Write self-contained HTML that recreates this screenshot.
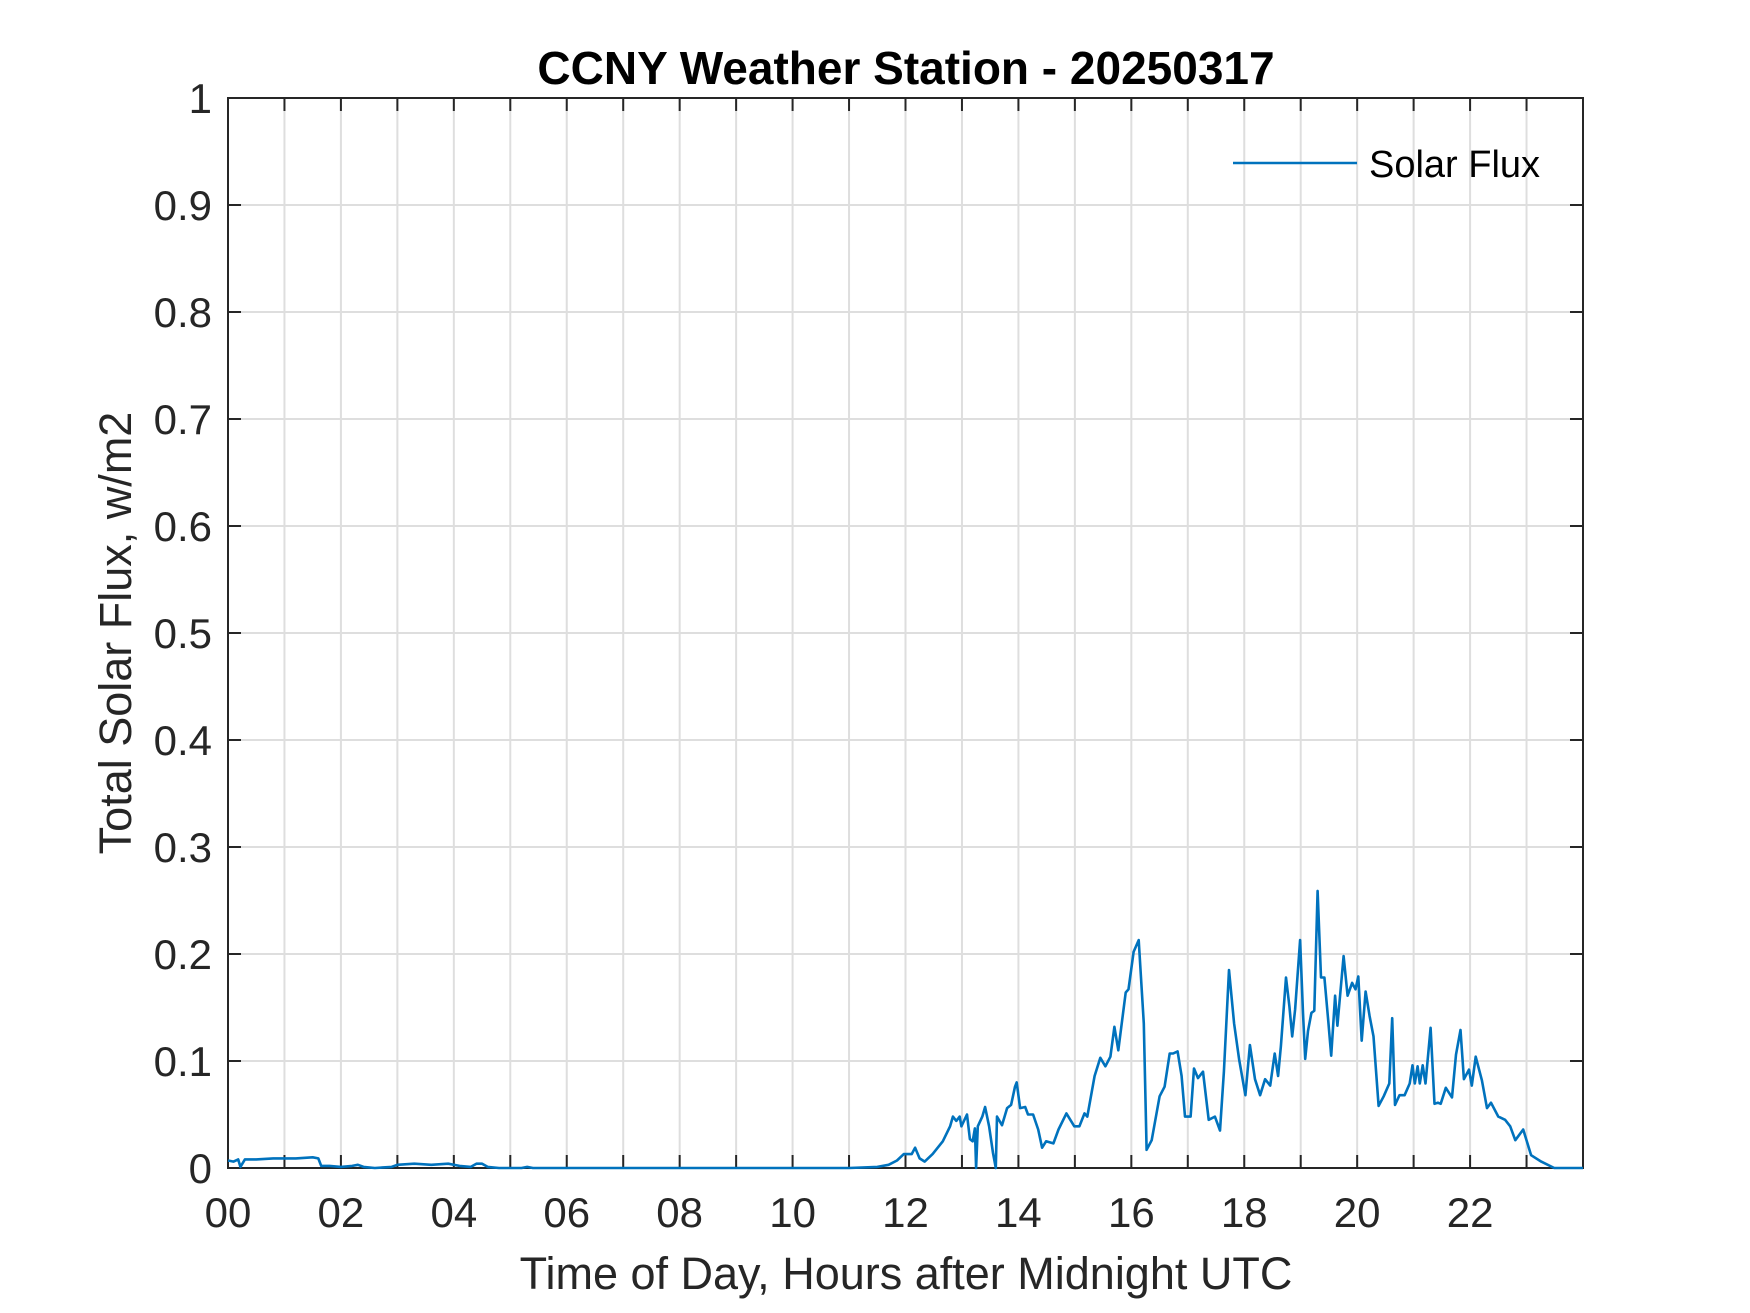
<!DOCTYPE html>
<html><head><meta charset="utf-8"><style>
html,body{margin:0;padding:0;background:#fff;}
svg{display:block;font-family:"Liberation Sans",Arial,sans-serif;}
</style></head><body>
<svg id="chart" width="1750" height="1313" viewBox="0 0 1750 1313">
<rect x="0" y="0" width="1750" height="1313" fill="#fff"/>
<rect x="228" y="98" width="1355" height="1070" fill="#fff"/>
<g id="grid"></g>
<rect x="228" y="98" width="1355" height="1070" fill="none" stroke="#262626" stroke-width="2"/>
<g id="ticks"></g>
<g id="series"></g>
<text x="906" y="84" text-anchor="middle" font-size="46" font-weight="bold" fill="#000">CCNY Weather Station - 20250317</text>
<text x="906" y="1289" text-anchor="middle" font-size="45" fill="#262626">Time of Day, Hours after Midnight UTC</text>
<text transform="translate(131,633) rotate(-90)" text-anchor="middle" font-size="45" fill="#262626">Total Solar Flux, w/m2</text>
<g>
<line x1="1233" y1="163" x2="1357" y2="163" stroke="#0072BD" stroke-width="2.4"/>
<text x="1369" y="177" font-size="38" fill="#000">Solar Flux</text>
</g>
</svg>
<script>
const times = [
0,0.1,0.18,0.22,0.3,0.5,0.8,1.0,1.2,1.5,
1.6,1.65,1.8,2.0,2.2,2.3,2.4,2.6,2.9,3.0,
3.3,3.6,3.9,4.1,4.3,4.4,4.5,4.6,4.8,5.2,
5.3,5.4,5.6,11.0,11.5,11.7,11.85,
11.97,12.11,12.17,12.25,12.34,12.48,12.66,12.79,12.84,12.90,
12.96,12.99,13.09,13.14,13.19,13.23,13.25,13.28,13.36,13.41,
13.48,13.55,13.6,13.62,13.71,13.80,13.87,13.94,13.97,14.03,
14.12,14.17,14.26,14.35,14.42,14.49,14.62,14.71,14.85,14.99,
15.08,15.17,15.22,15.35,15.45,15.54,15.63,15.70,15.77,15.90,
15.95,16.04,16.13,16.22,16.27,16.36,16.50,16.59,16.68,16.74,
16.82,16.89,16.95,17.05,17.11,17.18,17.27,17.37,17.48,17.57,
17.64,17.73,17.82,17.91,18.02,18.10,18.19,18.28,18.37,18.46,
18.54,18.60,18.65,18.74,18.80,18.85,18.90,18.99,19.04,19.08,
19.13,19.19,19.24,19.30,19.36,19.42,19.49,19.54,19.61,19.65,
19.76,19.83,19.91,19.97,20.02,20.08,20.15,20.22,20.29,20.38,
20.47,20.57,20.62,20.67,20.75,20.84,20.93,20.98,21.02,21.07,
21.11,21.16,21.21,21.30,21.37,21.43,21.48,21.57,21.68,21.75,
21.83,21.89,21.98,22.03,22.10,22.21,22.30,22.37,22.50,22.62,
22.71,22.80,22.94,23.08,23.26,23.49,24
];
const values = [
0.007,0.006,0.008,0.001,0.008,0.008,0.009,0.009,0.009,0.01,
0.009,0.002,0.002,0.001,0.002,0.003,0.001,0,0.001,0.003,
0.004,0.003,0.004,0.002,0.001,0.004,0.004,0.001,0,0,
0.001,0,0,0,0.001,0.003,0.007,
0.013,0.013,0.019,0.009,0.006,0.013,0.025,0.039,0.048,0.044,
0.048,0.039,0.05,0.027,0.025,0.037,0,0.039,0.048,0.057,
0.039,0.014,0,0.048,0.04,0.056,0.059,0.076,0.08,0.056,
0.057,0.05,0.05,0.036,0.019,0.025,0.023,0.036,0.051,0.039,
0.039,0.051,0.048,0.086,0.103,0.095,0.104,0.132,0.11,0.164,
0.167,0.202,0.213,0.135,0.017,0.026,0.067,0.076,0.107,0.107,
0.109,0.086,0.048,0.048,0.093,0.084,0.09,0.045,0.048,0.035,
0.09,0.185,0.135,0.101,0.068,0.115,0.083,0.068,0.083,0.077,
0.107,0.086,0.114,0.178,0.151,0.123,0.148,0.213,0.145,0.102,
0.128,0.145,0.147,0.259,0.178,0.178,0.136,0.105,0.161,0.133,
0.198,0.161,0.173,0.167,0.179,0.119,0.165,0.142,0.123,0.058,
0.067,0.079,0.14,0.059,0.068,0.068,0.079,0.096,0.079,0.095,
0.079,0.096,0.079,0.131,0.06,0.061,0.06,0.075,0.066,0.106,
0.129,0.083,0.092,0.077,0.104,0.082,0.056,0.061,0.048,0.045,
0.039,0.026,0.036,0.012,0.006,0,0
];
const yTicks = [0,0.1,0.2,0.3,0.4,0.5,0.6,0.7,0.8,0.9,1];
const yTickLabels = ["0","0.1","0.2","0.3","0.4","0.5","0.6","0.7","0.8","0.9","1"];
const xTickHours = [0,2,4,6,8,10,12,14,16,18,20,22];
const xTickLabels = ["00","02","04","06","08","10","12","14","16","18","20","22"];

const NS = "http://www.w3.org/2000/svg";
const X0 = 228, X1 = 1583, Y0 = 1168, Y1 = 98;
function xScale(h){ return X0 + (h/24)*(X1-X0); }
function yScale(v){ return Y0 - v*(Y0-Y1); }
function mk(tag, attrs, parent){ const e=document.createElementNS(NS,tag); for(const k in attrs) e.setAttribute(k,attrs[k]); parent.appendChild(e); return e; }

const grid = document.getElementById('grid');
const ticks = document.getElementById('ticks');
for(let h=1; h<24; h++){
  const x = xScale(h);
  const gl = mk('line',{x1:x,y1:Y1,x2:x,y2:Y0,stroke:'#dedede','stroke-width':2},grid);
  
  
  const t1 = mk('line',{x1:x,y1:Y0,x2:x,y2:Y0-13,stroke:'#262626','stroke-width':2},ticks);
  
  
  const t2 = mk('line',{x1:x,y1:Y1,x2:x,y2:Y1+13,stroke:'#262626','stroke-width':2},ticks);
  
  
}
xTickHours.forEach((h,i)=>{
  const t = mk('text',{x:xScale(h),y:1227,'text-anchor':'middle','font-size':42,fill:'#262626'},ticks);
  t.textContent = xTickLabels[i];
  
  
});
yTicks.forEach((v,i)=>{
  const y = yScale(v);
  if(v>0 && v<1){
    const gl = mk('line',{x1:X0,y1:y,x2:X1,y2:y,stroke:'#dedede','stroke-width':2},grid);
    
    
  }
  const t1 = mk('line',{x1:X0,y1:y,x2:X0+13,y2:y,stroke:'#262626','stroke-width':2},ticks);
  
  
  const t2 = mk('line',{x1:X1,y1:y,x2:X1-13,y2:y,stroke:'#262626','stroke-width':2},ticks);
  
  
  const t = mk('text',{x:212,y:y+15,'text-anchor':'end','font-size':42,fill:'#262626'},ticks);
  t.textContent = yTickLabels[i];
  
  
});
const n = Math.min(times.length, values.length);
const pts = [];
for(let i=0;i<n;i++) pts.push(xScale(times[i]).toFixed(1)+','+yScale(values[i]).toFixed(1));
const line = mk('polyline',{points:pts.join(' '),fill:'none',stroke:'#0072BD','stroke-width':2.6,'stroke-linejoin':'round'},document.getElementById('series'));


</script>
</body></html>
